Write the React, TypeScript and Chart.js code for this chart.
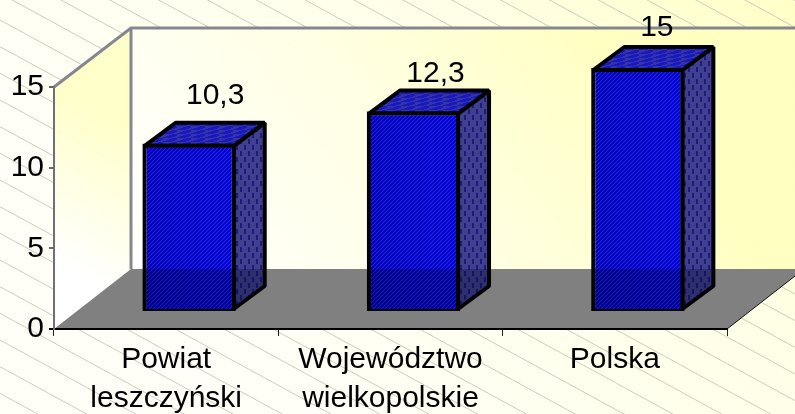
import React, { useEffect, useRef } from "react";
import { Chart, registerables } from "chart.js";

Chart.register(...registerables);

const categories: (string | string[])[] = [
  ["Powiat", "leszczyński"],
  ["Województwo", "wielkopolskie"],
  "Polska",
];
const values = [10.3, 12.3, 15];
const yMin = 0;
const yMax = 15;
const yStep = 5;

const FONT = "Liberation Sans, Arial, sans-serif";
const WALL_DX = 77;
const WALL_DY = 60;
const BAR_DX = 23;
const BAR_DY = 18;
const BAR_DEPTH_X = 31;
const BAR_DEPTH_Y = 23;
const LABEL_NUDGE_X = [26, 22, 19];
const LABEL_GAP_Y = [-18, -8, -10];

function tile(w: number, h: number, draw: (g: CanvasRenderingContext2D) => void) {
  const c = document.createElement("canvas");
  c.width = w;
  c.height = h;
  const g = c.getContext("2d") as CanvasRenderingContext2D;
  draw(g);
  return c;
}

function makePatterns(ctx: CanvasRenderingContext2D) {
  const front = tile(4, 4, (g) => {
    g.fillStyle = "#0606e6";
    g.fillRect(0, 0, 4, 4);
    g.fillStyle = "#2a2ad2";
    for (let y = 0; y < 4; y++) g.fillRect((y * 3) % 4, y, 1, 1);
    g.fillStyle = "#0000c4";
    for (let y = 0; y < 4; y++) g.fillRect((y * 3 + 2) % 4, y, 1, 1);
  });
  const top = tile(14, 4, (g) => {
    g.fillStyle = "#3434a4";
    g.fillRect(0, 0, 14, 4);
    g.fillStyle = "#1818c0";
    for (let y = 0; y < 4; y++) g.fillRect(((3 - y) * 3) % 14, y, 9, 1);
  });
  const side = tile(8, 12, (g) => {
    g.fillStyle = "#40408e";
    g.fillRect(0, 0, 8, 12);
    g.fillStyle = "#1c1c80";
    g.fillRect(1, 1, 2, 5);
    g.fillRect(5, 7, 2, 5);
  });
  return {
    front: ctx.createPattern(front, "repeat") as CanvasPattern,
    top: ctx.createPattern(top, "repeat") as CanvasPattern,
    side: ctx.createPattern(side, "repeat") as CanvasPattern,
  };
}

export default function App() {
  const ref = useRef<HTMLCanvasElement | null>(null);

  useEffect(() => {
    document.body.style.margin = "0";
    const canvas = ref.current as HTMLCanvasElement;
    const ctx0 = canvas.getContext("2d") as CanvasRenderingContext2D;
    const patterns = makePatterns(ctx0);

    const scene = {
      id: "scene",
      beforeDraw(chart: any) {
        const { ctx, width, height } = chart;
        const { left, right, top, bottom } = chart.chartArea;
        ctx.save();
        const bg = ctx.createLinearGradient(300, 450, width, -20);
        bg.addColorStop(0, "#fffff8");
        bg.addColorStop(0.6, "#ffffe8");
        bg.addColorStop(1, "#ffffc4");
        ctx.fillStyle = bg;
        ctx.fillRect(0, 0, width, height);

        ctx.strokeStyle = "#cdcdbe";
        ctx.lineWidth = 1;
        for (let c = 20 - 26.67 * 20; c < height; c += 26.67) {
          ctx.beginPath();
          ctx.moveTo(0, c);
          ctx.lineTo(width, c + 0.546 * width);
          ctx.stroke();
        }

        const bl = { x: left + WALL_DX, y: bottom - WALL_DY };
        const tl = { x: left + WALL_DX, y: top - WALL_DY + 1 };

        const wall = ctx.createLinearGradient(bl.x, bl.y, 540, -40);
        wall.addColorStop(0, "rgba(255,255,255,0.97)");
        wall.addColorStop(0.55, "rgba(255,255,228,0.97)");
        wall.addColorStop(1, "rgba(255,255,192,0.97)");
        ctx.fillStyle = wall;
        ctx.fillRect(bl.x, tl.y, width - bl.x, bl.y - tl.y);

        const lw = ctx.createLinearGradient(left, bottom - 70, bl.x, 130);
        lw.addColorStop(0, "rgba(255,255,255,0.97)");
        lw.addColorStop(1, "rgba(255,255,200,0.97)");
        ctx.fillStyle = lw;
        ctx.beginPath();
        ctx.moveTo(left, top);
        ctx.lineTo(tl.x, tl.y);
        ctx.lineTo(bl.x, bl.y);
        ctx.lineTo(left, bottom);
        ctx.closePath();
        ctx.fill();

        ctx.fillStyle = "#808080";
        ctx.beginPath();
        ctx.moveTo(left, bottom);
        ctx.lineTo(bl.x, bl.y);
        ctx.lineTo(right + WALL_DX, bl.y);
        ctx.lineTo(right, bottom);
        ctx.closePath();
        ctx.fill();

        ctx.strokeStyle = "#111";
        ctx.lineWidth = 1;
        ctx.beginPath();
        ctx.moveTo(right, bottom);
        ctx.lineTo(right + WALL_DX, bl.y);
        ctx.stroke();

        ctx.strokeStyle = "#868690";
        ctx.lineWidth = 3;
        ctx.beginPath();
        ctx.moveTo(left, top);
        ctx.lineTo(tl.x, tl.y);
        ctx.lineTo(width, tl.y);
        ctx.moveTo(tl.x, tl.y);
        ctx.lineTo(bl.x, bl.y);
        ctx.stroke();
        ctx.restore();
      },
      beforeDatasetDraw(chart: any) {
        const { ctx } = chart;
        ctx.save();
        ctx.translate(BAR_DX, -BAR_DY);
        ctx.lineWidth = 4;
        ctx.lineJoin = "bevel";
        ctx.strokeStyle = "#000";
        for (const bar of chart.getDatasetMeta(0).data) {
          const l = bar.x - bar.width / 2 + 1;
          const r = bar.x + bar.width / 2 - 1;
          const t = bar.y + 1;
          const b = bar.base - 1;
          ctx.fillStyle = patterns.side;
          ctx.beginPath();
          ctx.moveTo(r, t);
          ctx.lineTo(r + BAR_DEPTH_X, t - BAR_DEPTH_Y);
          ctx.lineTo(r + BAR_DEPTH_X, b - BAR_DEPTH_Y);
          ctx.lineTo(r, b);
          ctx.closePath();
          ctx.fill();
          ctx.stroke();
          ctx.fillStyle = patterns.top;
          ctx.beginPath();
          ctx.moveTo(l, t);
          ctx.lineTo(l + BAR_DEPTH_X, t - BAR_DEPTH_Y);
          ctx.lineTo(r + BAR_DEPTH_X, t - BAR_DEPTH_Y);
          ctx.lineTo(r, t);
          ctx.closePath();
          ctx.fill();
          ctx.stroke();
        }
      },
      afterDatasetDraw(chart: any) {
        const { ctx } = chart;
        const floorBack = chart.chartArea.bottom - WALL_DY + BAR_DY;
        for (const bar of chart.getDatasetMeta(0).data) {
          const l = bar.x - bar.width / 2;
          const r = bar.x + bar.width / 2;
          const shade = ctx.createLinearGradient(l, 0, r, 0);
          shade.addColorStop(0, "rgba(0,0,30,0.12)");
          shade.addColorStop(1, "rgba(0,0,30,0)");
          ctx.fillStyle = shade;
          ctx.fillRect(l + 3, bar.y + 3, bar.width - 6, bar.base - bar.y - 6);
          ctx.fillStyle = "rgba(0,0,20,0.26)";
          ctx.beginPath();
          ctx.moveTo(l, floorBack);
          ctx.lineTo(r + BAR_DEPTH_X, floorBack);
          ctx.lineTo(r + BAR_DEPTH_X, bar.base - BAR_DEPTH_Y);
          ctx.lineTo(r, bar.base);
          ctx.lineTo(l, bar.base);
          ctx.closePath();
          ctx.fill();
          ctx.strokeStyle = "#000";
          ctx.lineWidth = 2;
          ctx.lineJoin = "miter";
          ctx.strokeRect(l, bar.y, r - l, bar.base - bar.y);
        }
        ctx.restore();
      },
      afterDraw(chart: any) {
        const { ctx } = chart;
        ctx.save();
        ctx.font = `30px ${FONT}`;
        ctx.fillStyle = "#000";
        ctx.textAlign = "center";
        ctx.textBaseline = "alphabetic";
        chart.getDatasetMeta(0).data.forEach((bar: any, i: number) => {
          const text = String(values[i]).replace(".", ",");
          const x = bar.x + BAR_DX + LABEL_NUDGE_X[i];
          const y = bar.y - BAR_DY - BAR_DEPTH_Y + LABEL_GAP_Y[i];
          ctx.fillText(text, x, y);
        });
        ctx.restore();
      },
    };

    const chart = new Chart(canvas, {
      type: "bar",
      data: {
        labels: categories as any,
        datasets: [
          {
            data: values,
            backgroundColor: patterns.front as any,
            borderColor: "#000",
            borderWidth: 3,
            categoryPercentage: 1,
            barPercentage: 0.406,
            clip: false as any,
          },
        ],
      },
      options: {
        responsive: false,
        animation: false,
        layout: { padding: { left: 0, top: 87, right: 68, bottom: 0 } },
        plugins: { legend: { display: false }, tooltip: { enabled: false }, title: { display: false } },
        scales: {
          x: {
            afterFit: (s: any) => {
              s.height = 85;
            },
            grid: { drawOnChartArea: false, drawTicks: true, tickLength: 7, color: "#222", lineWidth: 1 },
            border: { color: "#000", width: 2 },
            ticks: {
              autoSkip: false,
              maxRotation: 0,
              minRotation: 0,
              padding: 4,
              color: "#000",
              font: { family: FONT, size: 30, lineHeight: 1.3 },
            },
          },
          y: {
            min: yMin,
            max: yMax,
            afterFit: (s: any) => {
              s.width = 54;
            },
            grid: {
              drawOnChartArea: false,
              drawTicks: true,
              tickLength: 5,
              color: (c: any) => (c.tick && c.tick.value === 0 ? "#000" : "#666"),
              lineWidth: 2,
            },
            border: { color: "#707078", width: 2 },
            ticks: {
              stepSize: yStep,
              padding: 5,
              color: "#000",
              font: { family: FONT, size: 30 },
            },
          },
        },
      },
      plugins: [scene as any],
    });
    return () => chart.destroy();
  }, []);

  return (
    <div style={{ position: "absolute", left: 0, top: 0, width: 795, height: 414, overflow: "hidden" }}>
      <canvas ref={ref} width={795} height={414} style={{ display: "block" }} />
    </div>
  );
}
